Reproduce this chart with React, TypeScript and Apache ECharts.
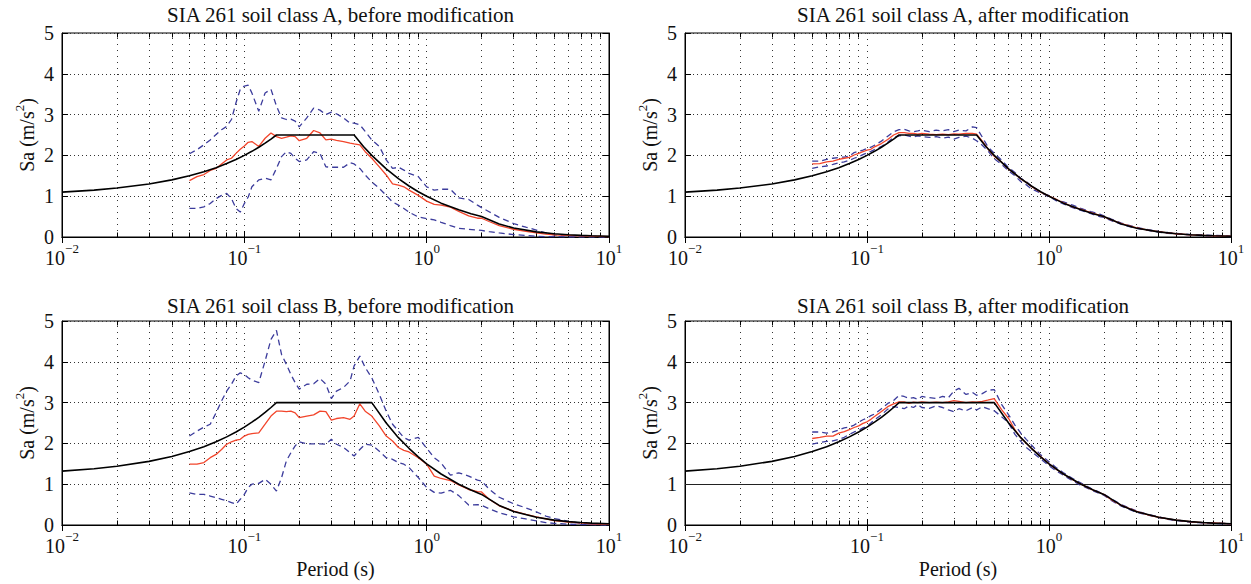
import React, { useEffect, useRef } from "react";
import * as echarts from "echarts";

// Periods (s) at which the record statistics were read
const periods = [
  0.05, 0.055, 0.06, 0.065, 0.07, 0.075, 0.08, 0.085, 0.09, 0.095, 0.1, 0.105, 0.11, 0.12, 0.13, 0.14,
  0.15, 0.16, 0.17, 0.18, 0.19, 0.2, 0.22, 0.24, 0.26, 0.28, 0.3, 0.32, 0.35, 0.38, 0.4, 0.43, 0.46,
  0.5, 0.55, 0.6, 0.65, 0.7, 0.75, 0.8, 0.9, 1.0,
  1.1, 1.2, 1.35, 1.5, 1.7, 1.9, 2.0, 2.2, 2.5, 3, 3.5, 4, 4.5, 5, 6, 7, 8, 9, 10,
];

// SIA 261 design spectra
const designPeriodsA = [0.01, 0.015, 0.02, 0.03, 0.04, 0.05, 0.06, 0.07, 0.08, 0.09, 0.1, 0.11, 0.12, 0.13, 0.14, 0.15, 0.4, 0.45, 0.5, 0.6, 0.7, 0.8, 0.9, 1, 1.2, 1.5, 1.75, 2, 2.5, 3, 4, 5, 6, 7, 8, 10];
const designA = [1.1, 1.15, 1.2, 1.3, 1.4, 1.5, 1.6, 1.7, 1.8, 1.9, 2.0, 2.1, 2.2, 2.3, 2.4, 2.5, 2.5, 2.22, 2.0, 1.67, 1.43, 1.25, 1.11, 1.0, 0.83, 0.67, 0.57, 0.5, 0.32, 0.22, 0.125, 0.08, 0.056, 0.041, 0.031, 0.02];
const designPeriodsB = [0.01, 0.015, 0.02, 0.03, 0.04, 0.05, 0.06, 0.07, 0.08, 0.09, 0.1, 0.11, 0.12, 0.13, 0.14, 0.15, 0.5, 0.6, 0.7, 0.8, 0.9, 1, 1.2, 1.5, 1.75, 2, 2.5, 3, 4, 5, 6, 7, 8, 10];
const designB = [1.32, 1.38, 1.44, 1.56, 1.68, 1.8, 1.92, 2.04, 2.16, 2.28, 2.4, 2.52, 2.64, 2.76, 2.88, 3.0, 3.0, 2.5, 2.14, 1.88, 1.67, 1.5, 1.25, 1.0, 0.86, 0.75, 0.48, 0.33, 0.19, 0.12, 0.083, 0.061, 0.047, 0.03];

// Class A, before modification
const aBeforeMean = [1.38, 1.48, 1.53, 1.63, 1.68, 1.79, 1.89, 1.93, 2.05, 2.15, 2.23, 2.32, 2.34, 2.22, 2.42, 2.55, 2.46, 2.42, 2.45, 2.48, 2.46, 2.36, 2.42, 2.61, 2.55, 2.38, 2.40, 2.37, 2.34, 2.30, 2.28, 2.26, 2.09, 1.93, 1.72, 1.52, 1.30, 1.27, 1.23, 1.15, 1.02, 0.88,
  0.80, 0.78, 0.73, 0.63, 0.52, 0.46, 0.46, 0.38, 0.28, 0.19, 0.14, 0.10, 0.07, 0.05, 0.04, 0.03, 0.02, 0.015, 0.01];
const aBeforeUpper = [2.04, 2.14, 2.26, 2.38, 2.51, 2.63, 2.71, 2.88, 3.29, 3.62, 3.70, 3.72, 3.53, 3.08, 3.53, 3.62, 3.21, 2.92, 2.88, 2.89, 2.84, 2.70, 2.92, 3.16, 3.11, 3.00, 3.06, 3.02, 2.92, 2.79, 2.79, 2.75, 2.59, 2.38, 2.22, 1.89, 1.68, 1.71, 1.64, 1.56, 1.48, 1.23,
  1.15, 1.17, 1.17, 0.96, 0.92, 0.78, 0.72, 0.62, 0.48, 0.33, 0.24, 0.17, 0.10, 0.05, 0.03, 0.02, 0.015, 0.01, 0.01];
const aBeforeLower = [0.70, 0.70, 0.74, 0.82, 0.94, 1.02, 1.07, 0.94, 0.70, 0.61, 0.82, 0.98, 1.23, 1.40, 1.44, 1.40, 1.68, 1.97, 2.09, 2.05, 1.93, 1.85, 1.89, 2.09, 2.05, 1.72, 1.71, 1.71, 1.71, 1.82, 1.79, 1.68, 1.52, 1.35, 1.19, 1.02, 0.86, 0.78, 0.70, 0.61, 0.49, 0.45,
  0.42, 0.36, 0.28, 0.21, 0.19, 0.17, 0.16, 0.13, 0.10, 0.06, 0.04, 0.02, 0.01, 0.01, 0, 0, 0, 0, 0];

// Class A, after modification
const aAfterMean = [1.79, 1.80, 1.84, 1.86, 1.90, 1.93, 1.95, 2.01, 2.05, 2.09, 2.13, 2.15, 2.21, 2.29, 2.39, 2.50, 2.56, 2.56, 2.54, 2.54, 2.52, 2.54, 2.52, 2.51, 2.52, 2.51, 2.53, 2.52, 2.54, 2.54, 2.52, 2.35, 2.17, 1.98, 1.83, 1.66, 1.55, 1.42, 1.34, 1.24, 1.10, 1.0,
  0.92, 0.84, 0.74, 0.68, 0.60, 0.53, 0.50, 0.42, 0.33, 0.23, 0.17, 0.13, 0.10, 0.08, 0.05, 0.04, 0.03, 0.02, 0.02];
const aAfterUpper = [1.86, 1.86, 1.90, 1.93, 1.95, 1.96, 1.98, 2.07, 2.10, 2.13, 2.17, 2.20, 2.25, 2.35, 2.47, 2.58, 2.63, 2.64, 2.60, 2.58, 2.60, 2.62, 2.58, 2.62, 2.60, 2.63, 2.58, 2.62, 2.60, 2.70, 2.68, 2.45, 2.22, 2.05, 1.88, 1.70, 1.58, 1.44, 1.36, 1.25, 1.10, 0.98,
  0.90, 0.86, 0.78, 0.70, 0.62, 0.56, 0.52, 0.44, 0.34, 0.24, 0.18, 0.14, 0.11, 0.09, 0.06, 0.05, 0.04, 0.03, 0.02];
const aAfterLower = [1.68, 1.72, 1.74, 1.78, 1.82, 1.84, 1.88, 1.93, 1.97, 2.02, 2.06, 2.10, 2.14, 2.22, 2.32, 2.44, 2.48, 2.50, 2.47, 2.45, 2.48, 2.46, 2.44, 2.46, 2.42, 2.45, 2.40, 2.44, 2.47, 2.42, 2.36, 2.25, 2.12, 1.92, 1.78, 1.62, 1.50, 1.36, 1.28, 1.18, 1.08, 1.02,
  0.88, 0.81, 0.72, 0.65, 0.57, 0.50, 0.48, 0.40, 0.31, 0.21, 0.16, 0.12, 0.09, 0.07, 0.05, 0.03, 0.02, 0.02, 0.01];

// Class B, before modification
const bBeforeMean = [1.49, 1.49, 1.53, 1.65, 1.73, 1.85, 1.98, 2.04, 2.08, 2.10, 2.18, 2.22, 2.24, 2.26, 2.47, 2.67, 2.79, 2.79, 2.78, 2.79, 2.75, 2.63, 2.67, 2.70, 2.79, 2.78, 2.57, 2.61, 2.63, 2.59, 2.67, 2.97, 2.79, 2.67, 2.43, 2.18, 2.06, 1.90, 1.83, 1.79, 1.65, 1.49,
  1.20, 1.14, 1.09, 0.98, 0.87, 0.82, 0.81, 0.63, 0.47, 0.34, 0.26, 0.20, 0.15, 0.11, 0.07, 0.05, 0.03, 0.02, 0.02];
const bBeforeUpper = [2.18, 2.30, 2.40, 2.47, 2.75, 3.04, 3.28, 3.45, 3.65, 3.73, 3.69, 3.61, 3.55, 3.49, 4.02, 4.55, 4.77, 4.18, 3.94, 3.69, 3.49, 3.33, 3.45, 3.46, 3.59, 3.45, 3.10, 3.28, 3.37, 3.53, 3.90, 4.14, 3.86, 3.61, 3.20, 2.79, 2.47, 2.30, 2.14, 2.08, 2.15, 1.88,
  1.65, 1.52, 1.22, 1.28, 1.20, 1.10, 1.08, 0.88, 0.68, 0.52, 0.42, 0.32, 0.22, 0.16, 0.09, 0.04, 0.02, 0.01, 0.01];
const bBeforeLower = [0.79, 0.75, 0.75, 0.71, 0.67, 0.63, 0.59, 0.55, 0.51, 0.63, 0.75, 0.92, 1.00, 1.02, 1.12, 1.00, 0.83, 1.16, 1.57, 1.77, 1.94, 2.04, 1.99, 1.99, 1.99, 1.98, 2.10, 1.98, 1.90, 1.77, 1.69, 1.85, 1.98, 1.96, 1.81, 1.65, 1.61, 1.53, 1.49, 1.41, 1.16, 0.92,
  0.80, 0.78, 0.85, 0.72, 0.49, 0.50, 0.48, 0.40, 0.30, 0.20, 0.15, 0.10, 0.06, 0.04, 0.02, 0.01, 0.01, 0, 0];

// Class B, after modification
const bAfterMean = [2.12, 2.15, 2.18, 2.18, 2.25, 2.29, 2.34, 2.39, 2.43, 2.49, 2.53, 2.59, 2.66, 2.78, 2.90, 2.97, 3.02, 3.02, 2.98, 3.01, 3.00, 3.02, 3.00, 3.01, 3.00, 3.02, 3.05, 3.03, 3.00, 3.02, 3.01, 3.03, 3.06, 3.10, 2.82, 2.61, 2.33, 2.14, 2.00, 1.88, 1.68, 1.50,
  1.36, 1.25, 1.11, 1.00, 0.88, 0.79, 0.75, 0.62, 0.48, 0.34, 0.25, 0.19, 0.15, 0.12, 0.08, 0.06, 0.05, 0.04, 0.03];
const bAfterUpper = [2.28, 2.28, 2.25, 2.28, 2.33, 2.38, 2.40, 2.45, 2.52, 2.58, 2.62, 2.68, 2.72, 2.85, 2.98, 3.05, 3.18, 3.15, 3.10, 3.12, 3.08, 3.15, 3.12, 3.10, 3.15, 3.12, 3.28, 3.35, 3.20, 3.25, 3.18, 3.22, 3.30, 3.32, 2.95, 2.70, 2.45, 2.25, 2.10, 1.96, 1.72, 1.55,
  1.40, 1.28, 1.14, 1.03, 0.90, 0.80, 0.76, 0.64, 0.50, 0.35, 0.26, 0.20, 0.15, 0.12, 0.08, 0.06, 0.05, 0.04, 0.03];
const bAfterLower = [1.98, 2.02, 2.05, 2.06, 2.10, 2.15, 2.22, 2.28, 2.32, 2.38, 2.42, 2.50, 2.58, 2.70, 2.84, 2.90, 2.88, 2.85, 2.92, 2.88, 2.95, 2.88, 2.86, 2.92, 2.88, 2.82, 2.78, 2.85, 2.80, 2.88, 2.82, 2.90, 2.85, 2.80, 2.65, 2.50, 2.22, 2.05, 1.90, 1.80, 1.62, 1.45,
  1.32, 1.22, 1.08, 0.97, 0.86, 0.77, 0.73, 0.60, 0.46, 0.32, 0.24, 0.18, 0.14, 0.11, 0.07, 0.05, 0.04, 0.03, 0.02];

const titles = [
  "SIA 261 soil class A, before modification",
  "SIA 261 soil class A, after modification",
  "SIA 261 soil class B, before modification",
  "SIA 261 soil class B, after modification",
];

// Minor (2..9 x 10^k) vertical grid positions
const minorGridPeriods = [
  0.02, 0.03, 0.04, 0.05, 0.06, 0.07, 0.08, 0.09,
  0.2, 0.3, 0.4, 0.5, 0.6, 0.7, 0.8, 0.9,
  2, 3, 4, 5, 6, 7, 8, 9,
];

const yTicks = [0, 1, 2, 3, 4, 5];

export default function App() {
  const ref = useRef<HTMLDivElement>(null);

  useEffect(() => {
    const chart = echarts.init(ref.current!, null, { renderer: "svg" });
    const FONT = "'Liberation Serif', 'DejaVu Serif', serif";
    const grids = [
      { left: 62, top: 33, width: 547, height: 204 },
      { left: 685, top: 33, width: 546, height: 204 },
      { left: 62, top: 321, width: 547, height: 204 },
      { left: 685, top: 321, width: 546, height: 204 },
    ];
    const titleOffsets = [34, 34, 31, 31];
    const panels = [
      { dp: designPeriodsA, d: designA, m: aBeforeMean, u: aBeforeUpper, l: aBeforeLower, ref1: false },
      { dp: designPeriodsA, d: designA, m: aAfterMean, u: aAfterUpper, l: aAfterLower, ref1: false },
      { dp: designPeriodsB, d: designB, m: bBeforeMean, u: bBeforeUpper, l: bBeforeLower, ref1: false },
      { dp: designPeriodsB, d: designB, m: bAfterMean, u: bAfterUpper, l: bAfterLower, ref1: true },
    ];
    const yMin = yTicks[0];
    const yMax = yTicks[yTicks.length - 1];
    const tickLen = 0.11; // minor tick length in axis units
    const vDotted = { color: "#333", width: 1, type: [1, 5] as any };
    const hDotted = { color: "#333", width: 1, type: [1, 3] as any };
    const tickStyle = { color: "#000", width: 1, type: "solid" };
    const pair = (xs: number[], ys: number[]) => xs.map((x, i) => [x, ys[i]]);

    const series: any[] = [];
    panels.forEach((p, i) => {
      const markData: any[] = minorGridPeriods.map((t) => ({ xAxis: t }));
      minorGridPeriods.forEach((t) => {
        markData.push([{ coord: [t, yMin], lineStyle: tickStyle }, { coord: [t, yMin + tickLen] }]);
        markData.push([{ coord: [t, yMax], lineStyle: tickStyle }, { coord: [t, yMax - tickLen] }]);
      });
      if (p.ref1) {
        markData.push({ yAxis: 1, lineStyle: { type: "solid", color: "#222", width: 1 } });
      }
      series.push({
        type: "line",
        name: "grid" + i,
        xAxisIndex: i,
        yAxisIndex: i,
        data: [],
        silent: true,
        markLine: {
          z: 1,
          silent: true,
          symbol: "none",
          label: { show: false },
          lineStyle: vDotted,
          data: markData,
        },
      });
      series.push({
        type: "line", name: "mean-std", xAxisIndex: i, yAxisIndex: i, z: 3,
        data: pair(periods, p.l), showSymbol: false,
        lineStyle: { color: "#3c3c9c", width: 1.3, type: [6, 4] },
      });
      series.push({
        type: "line", name: "mean+std", xAxisIndex: i, yAxisIndex: i, z: 3,
        data: pair(periods, p.u), showSymbol: false,
        lineStyle: { color: "#3c3c9c", width: 1.3, type: [6, 4] },
      });
      series.push({
        type: "line", name: "mean", xAxisIndex: i, yAxisIndex: i, z: 4,
        data: pair(periods, p.m), showSymbol: false,
        lineStyle: { color: "#f2452b", width: 1.3 },
      });
      series.push({
        type: "line", name: "design", xAxisIndex: i, yAxisIndex: i, z: 5,
        data: pair(p.dp, p.d), showSymbol: false,
        lineStyle: { color: "#000", width: 1.6 },
      });
    });

    const primaryX = grids.map((g, i) => ({
      type: "log",
      logBase: 10,
      min: 0.01,
      max: 10,
      gridIndex: i,
      position: "bottom",
      axisLine: { show: true, lineStyle: { color: "#000", width: 1 } },
      axisTick: { show: true, inside: true, length: 6, lineStyle: { color: "#000" } },
      axisLabel: {
        showMinLabel: true,
        showMaxLabel: true,
        margin: 5,
        formatter: (v: number) => {
          const e = Math.round(Math.log10(v));
          return "{b|10}{e|" + String(e).replace("-", "\u2212") + "}";
        },
        rich: {
          b: { fontFamily: FONT, fontSize: 20, color: "#111", lineHeight: 26, verticalAlign: "bottom" },
          e: { fontFamily: FONT, fontSize: 13, color: "#111", lineHeight: 13, verticalAlign: "top" },
        },
      },
      splitLine: { show: true, lineStyle: vDotted },
      name: i >= 2 ? "Period (s)" : "",
      nameLocation: "middle",
      nameGap: 34,
      nameTextStyle: { fontFamily: FONT, fontSize: 20, color: "#111" },
    }));
    const secondaryX = grids.map((g, i) => ({
      type: "log",
      logBase: 10,
      min: 0.01,
      max: 10,
      gridIndex: i,
      position: "top",
      axisLine: { show: true, lineStyle: { color: "#000", width: 1 } },
      axisTick: { show: true, inside: true, length: 6, lineStyle: { color: "#000" } },
      axisLabel: { show: false },
      splitLine: { show: false },
    }));
    const primaryY = grids.map((g, i) => ({
      type: "value",
      min: yMin,
      max: yMax,
      interval: 1,
      gridIndex: i,
      position: "left",
      axisLine: { show: true, lineStyle: { color: "#000", width: 1 } },
      axisTick: { show: true, inside: true, length: 6, lineStyle: { color: "#000" } },
      axisLabel: { fontFamily: FONT, fontSize: 20, color: "#111", margin: 8 },
      splitLine: { show: true, lineStyle: hDotted },
      name: "{a|Sa (m/s}{s|2}{a|)}",
      nameLocation: "middle",
      nameRotate: 90,
      nameGap: 25,
      nameTextStyle: {
        rich: {
          a: { fontFamily: FONT, fontSize: 20, color: "#111", lineHeight: 24, verticalAlign: "bottom" },
          s: { fontFamily: FONT, fontSize: 13, color: "#111", lineHeight: 13, verticalAlign: "top" },
        },
      },
    }));
    const secondaryY = grids.map((g, i) => ({
      type: "value",
      min: yMin,
      max: yMax,
      interval: 1,
      gridIndex: i,
      position: "right",
      axisLine: { show: true, lineStyle: { color: "#000", width: 1 } },
      axisTick: { show: true, inside: true, length: 6, lineStyle: { color: "#000" } },
      axisLabel: { show: false },
      splitLine: { show: false },
    }));

    chart.setOption({
      animation: false,
      backgroundColor: "#fff",
      title: titles.map((t, i) => ({
        text: t,
        left: grids[i].left + grids[i].width / 2,
        top: grids[i].top - titleOffsets[i],
        textAlign: "center",
        textStyle: { fontFamily: FONT, fontSize: 21, fontWeight: "normal", color: "#111" },
      })),
      grid: grids.map((g) => ({ ...g, show: true, borderColor: "#000", borderWidth: 1, backgroundColor: "transparent", containLabel: false })),
      xAxis: [...primaryX, ...secondaryX],
      yAxis: [...primaryY, ...secondaryY],
      series,
    });

    return () => chart.dispose();
  }, []);

  return (
    <div
      ref={ref}
      style={{ position: "fixed", left: 0, top: 0, width: 1251, height: 584, background: "#fff" }}
    />
  );
}
